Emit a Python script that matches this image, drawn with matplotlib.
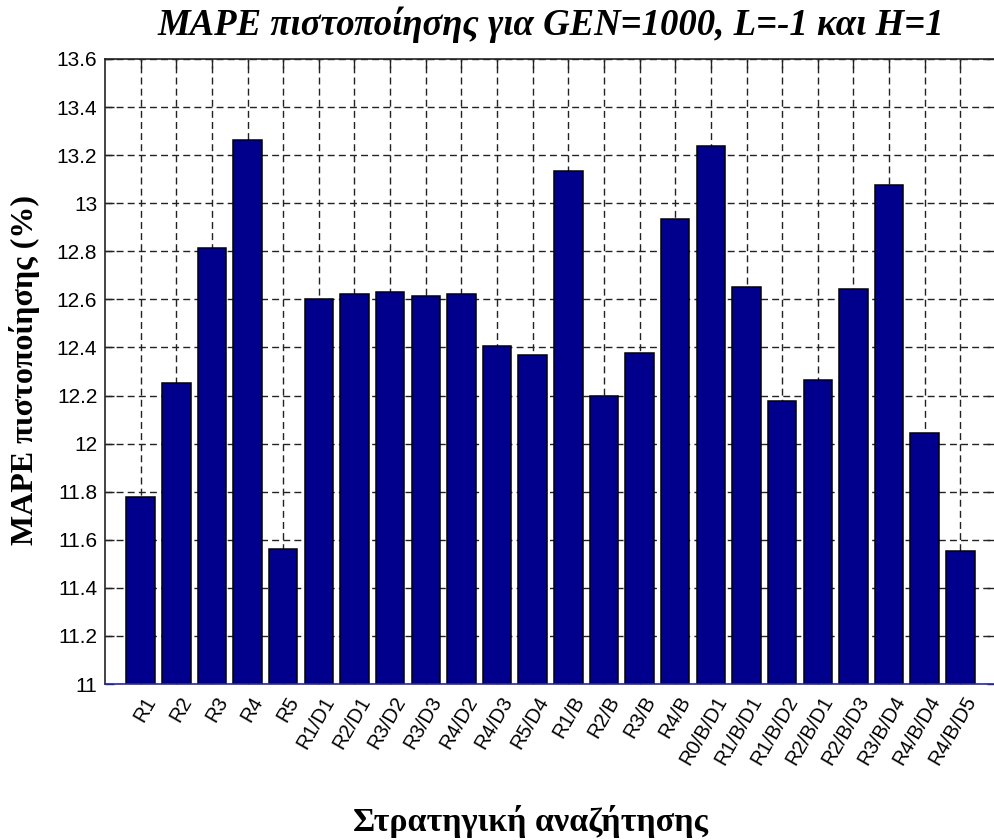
import matplotlib.pyplot as plt
import matplotlib.transforms as mtransforms
from matplotlib.ticker import FormatStrFormatter
import numpy as np

strategies = ['R1', 'R2', 'R3', 'R4', 'R5',
              'R1/D1', 'R2/D1', 'R3/D2', 'R3/D3', 'R4/D2', 'R4/D3', 'R5/D4',
              'R1/B', 'R2/B', 'R3/B', 'R4/B',
              'R0/B/D1', 'R1/B/D1', 'R1/B/D2', 'R2/B/D1', 'R2/B/D3',
              'R3/B/D4', 'R4/B/D4', 'R4/B/D5']
mape = [11.777, 12.252, 12.815, 13.265, 11.563,
        12.600, 12.622, 12.630, 12.614, 12.622, 12.407, 12.370,
        13.135, 12.200, 12.378, 12.936,
        13.236, 12.650, 12.178, 12.265, 12.645,
        13.074, 12.045, 11.554]
yticks = [11, 11.2, 11.4, 11.6, 11.8, 12, 12.2, 12.4, 12.6, 12.8, 13, 13.2, 13.4, 13.6]

fig = plt.figure(figsize=(9.94, 8.4), dpi=100)
ax = fig.add_axes([105/994, 1 - 684/840, 891/994, 625/840])

x = np.arange(1, len(strategies) + 1)
ax.bar(x, np.array(mape) - 11, bottom=11, width=0.8, color='#00008c',
       edgecolor='black', linewidth=1.1, zorder=2)

ax.set_xlim(0, 25)
ax.set_ylim(11, 13.6)
ax.set_yticks(yticks)
ax.yaxis.set_major_formatter(FormatStrFormatter('%g'))
ax.set_xticks(x)
ax.set_xticklabels([])
for lab in ax.get_yticklabels():
    lab.set_family('Liberation Sans')
    lab.set_fontsize(15)

# rotated category labels (matlab style, right end just under the tick)
off = mtransforms.ScaledTranslation(3/100, -9/100, fig.dpi_scale_trans)
for xi, name in zip(x, strategies):
    ax.text(xi, 0, name, transform=ax.get_xaxis_transform() + off,
            rotation=60, rotation_mode='anchor', ha='right', va='top',
            family='Liberation Sans', fontsize=14.5, clip_on=False)

ax.tick_params(axis='both', direction='in', length=6.5, width=1.0,
               top=True, right=True, color='#222222')
ax.tick_params(axis='y', pad=5.5)
ax.set_axisbelow(True)
ax.grid(True, color='#222222', linestyle=(0, (5, 3)), linewidth=1.0)
for s in ax.spines.values():
    s.set_linewidth(1.2)
    s.set_color('#222222')
ax.spines['bottom'].set_color('#2828b4')
ax.spines['bottom'].set_zorder(3)

ax.set_title('MAPE πιστοποίησης για GEN=1000, L=-1 και H=1',
             family='Liberation Serif', fontweight='bold', style='italic',
             fontsize=26.5, pad=17)
fig.text(530/994, 1 - 831/840, 'Στρατηγική αναζήτησης', family='Liberation Serif',
         fontweight='bold', fontsize=24.5, ha='center', va='baseline')
fig.text(25/994, 1 - 370/840, 'MAPE πιστοποίησης (%)', family='Liberation Serif',
         fontweight='bold', fontsize=23, ha='center', va='center', rotation=90)

fig.savefig('out.png', dpi=100)
